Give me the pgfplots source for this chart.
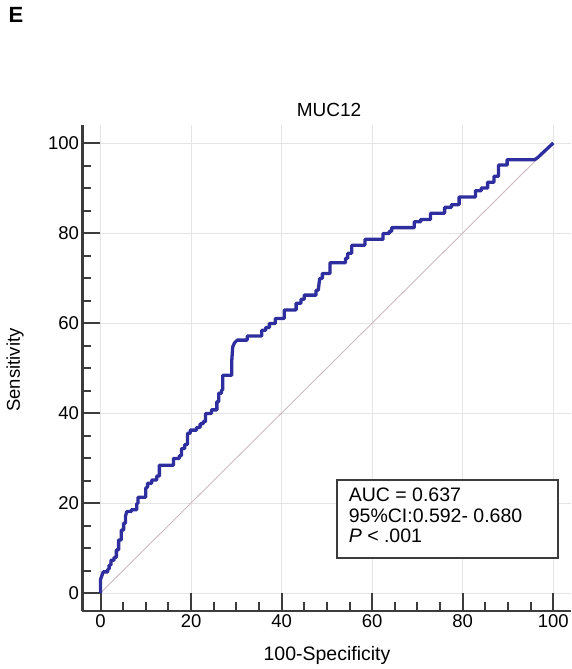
\documentclass[border=0pt]{standalone}
\usepackage{fontspec}
\setmainfont{Liberation Sans}
\usepackage{pgfplots}
\pgfplotsset{compat=1.18}
\definecolor{rocblue}{RGB}{46,46,158}
\definecolor{diag}{RGB}{205,185,195}
\definecolor{spine}{RGB}{60,60,60}
\definecolor{gridc}{RGB}{228,228,228}

\begin{document}
\begin{tikzpicture}
\path[use as bounding box] (0,0) rectangle (571pt,-669pt);
\begin{axis}[
    at={(82.4pt,-611pt)}, anchor=south west,
    scale only axis, width=489pt, height=486pt,
    xmin=-4, xmax=104, ymin=-4, ymax=104,
    axis lines*=left,
    axis line style={spine, line width=2.5pt},
    xtick={0,20,...,100}, ytick={0,20,...,100},
    minor tick num=3,
    tick align=inside,
    major tick length=18pt, minor tick length=9pt,
    every tick/.style={spine, line width=2pt},
    grid=major,
    major grid style={gridc, line width=0.9pt},
    tick label style={font=\fontsize{18.5}{21}\selectfont},
    /pgf/number format/assume math mode=true,
    clip=false,
]
% reference diagonal
\addplot[diag, line width=0.9pt] coordinates {(0,0) (100,100)};
% ROC curve
\addplot[rocblue, line width=3.3pt, line join=round] coordinates {
(0,0) (0,3) (0.6,4.7) (1.6,4.7) (1.6,5.3) (1.9,5.3) (1.9,6.2) (2.3,6.2)
(2.3,7.3) (3.0,7.3) (3.0,7.9) (3.5,7.9) (3.5,9.6) (4.0,9.6) (4.0,11.8)
(4.6,11.8) (4.6,14.0) (5.1,14.0) (5.1,15.5) (5.5,15.5) (5.5,17.0) (5.8,18.1)
(6.8,18.1) (6.8,18.5) (8.0,18.5) (8.0,19.9) (8.3,19.9) (8.3,21.3) (10.0,21.3)
(10.0,23.3) (10.4,23.6) (10.4,24.4) (11.3,24.4) (11.3,25.1) (12.4,25.1)
(12.4,26.0) (13.0,26.0) (13.0,28.4) (16.1,28.4) (16.1,29.9) (17.4,29.9)
(17.4,30.5) (17.9,30.5) (17.9,32.1) (18.6,32.1) (18.6,33.0) (19.2,33.0)
(19.2,35.5) (19.8,35.5) (19.8,36.2) (21.2,36.2) (21.2,36.8) (22.0,36.8)
(22.0,37.6) (22.7,37.6) (22.7,38.1) (23.2,38.1) (23.2,39.9) (24.5,39.9)
(24.5,40.7) (25.7,40.7) (25.7,42.5) (26.1,42.5) (26.1,44.4) (26.7,44.4)
(26.7,45.1) (27.0,45.1) (27.0,48.4) (29.0,48.4) (29.0,51.8) (29.2,54.7)
(29.6,55.6) (30.2,56.2) (32.4,56.2) (32.4,57.1) (35.6,57.1) (35.6,58.4)
(36.5,58.4) (36.5,59.0) (37.3,59.0) (37.3,59.9) (38.6,59.9) (38.6,61.0)
(40.6,61.0) (40.6,62.9) (43.2,62.9) (43.2,64.4) (44.3,64.4) (44.3,65.3)
(45.0,65.3) (45.0,66.2) (47.6,66.2) (47.6,67.3) (48.1,67.3) (48.4,69.9)
(49.0,69.9) (49.0,71.0) (50.7,71.0) (50.7,73.4) (54.1,73.4) (54.1,74.4)
(54.6,74.4) (54.6,75.5) (55.5,75.5) (55.5,77.3) (58.4,77.3) (58.4,78.6)
(62.4,78.6) (62.4,79.9) (63.8,79.9) (63.8,80.4) (64.3,80.4) (64.3,81.2)
(69.3,81.2) (69.3,82.5) (70.7,82.5) (70.7,83.0) (72.9,83.0) (72.9,84.4)
(76.0,84.4) (76.0,85.7) (77.5,85.7) (77.5,86.3) (79.2,86.3) (79.2,88.0)
(82.8,88.0) (82.8,89.4) (84.1,89.4) (84.1,90.0) (85.5,90.0) (85.5,91.3)
(86.9,91.3) (86.9,92.6) (87.9,92.6) (87.9,95.1) (89.8,95.1) (89.8,96.3)
(95.9,96.3) (96.6,96.8) (100,100)
};
% statistics box
\draw[spine, line width=2pt, fill=white] (axis cs:52.2,7.8) rectangle (axis cs:101,25.1);
\node[anchor=north west, align=left, inner sep=0pt,
      font=\fontsize{19.5}{20.5}\selectfont]
  at (axis cs:54.8,23.4) {AUC = 0.637\\95\%CI:0.592- 0.680\\\textit{P} < .001};
\end{axis}
\node[font=\bfseries\fontsize{22}{24}\selectfont, anchor=north west] at (5pt,-4pt) {E};
\node[font=\fontsize{19}{21}\selectfont] at (329pt,-110pt) {MUC12};
\node[font=\fontsize{18.5}{21}\selectfont, rotate=90] at (15pt,-370pt) {Sensitivity};
\node[font=\fontsize{19.5}{21}\selectfont] at (327pt,-655pt) {100-Specificity};
\end{tikzpicture}
\end{document}
